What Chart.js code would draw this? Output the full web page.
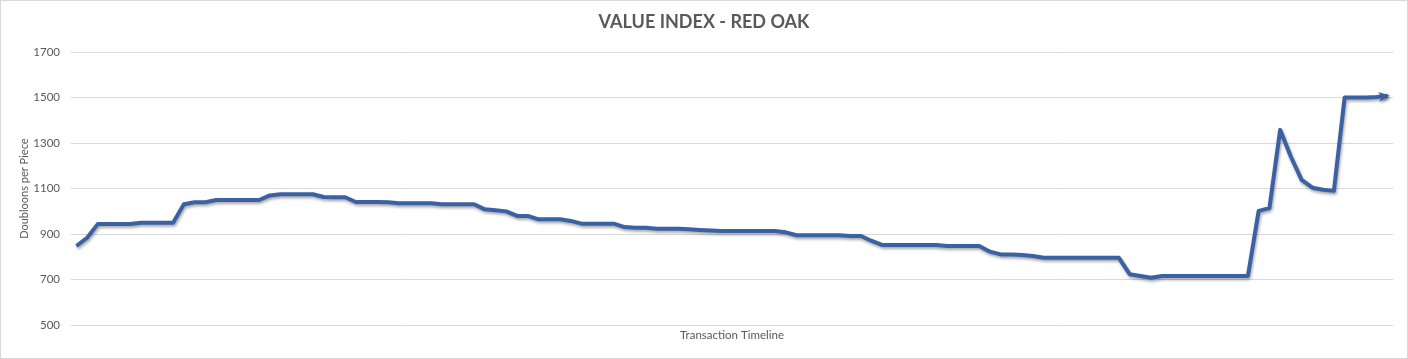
<!DOCTYPE html>
<html>
<head>
<meta charset="utf-8">
<script src="https://cdn.jsdelivr.net/npm/chart.js@4.4.1/dist/chart.umd.min.js"></script>
<style>
  html, body { margin: 0; padding: 0; background: #ffffff; }
  #wrap { position: relative; width: 1408px; height: 359px; }
  canvas { display: block; }
</style>
</head>
<body>
<div id="wrap"><canvas id="c" width="1408" height="359"></canvas></div>
<script>
const chartTitle = "VALUE INDEX - RED OAK";
const yAxisTitle = "Doubloons per Piece";
const xAxisTitle = "Transaction Timeline";

const transactions = [
  1,2,3,4,5,6,7,8,9,10,11,12,13,14,15,16,17,18,19,20,
  21,22,23,24,25,26,27,28,29,30,31,32,33,34,35,36,37,38,39,40,
  41,42,43,44,45,46,47,48,49,50,51,52,53,54,55,56,57,58,59,60,
  61,62,63,64,65,66,67,68,69,70,71,72,73,74,75,76,77,78,79,80,
  81,82,83,84,85,86,87,88,89,90,91,92,93,94,95,96,97,98,99,100,
  101,102,103,104,105,106,107,108,109,110,111,112,113,114,115,116,117,118,119,120,
  121,122,123
];

const doubloonsPerPiece = [
  848,884,945,945,945,945,950,950,950,950,
  1031,1040,1040,1050,1050,1050,1050,1050,1070,1075,
  1075,1075,1075,1063,1062,1062,1041,1041,1041,1040,
  1036,1036,1036,1036,1031,1031,1031,1031,1009,1005,
  1000,980,980,965,965,965,958,946,946,946,
  946,931,928,928,924,924,924,921,918,916,
  914,914,914,914,914,914,908,895,895,895,
  895,895,892,892,870,852,852,852,852,852,
  852,848,848,848,848,823,811,810,808,804,
  796,796,796,796,796,796,796,796,724,716,
  708,716,716,716,716,716,716,716,716,716,
  1002,1014,1358,1240,1138,1104,1095,1090,1500,1500,
  1500,1502,1508
];

const yTicks = [500, 700, 900, 1100, 1300, 1500, 1700];

const LINE_COLOR = '#3a62a2';
const TEXT_COLOR = '#595959';
const GRID_COLOR = '#d9d9d9';

const shadowPlugin = {
  id: 'lineShadow',
  beforeDatasetsDraw(chart) {
    const ctx = chart.ctx;
    ctx.save();
    ctx.shadowColor = 'rgba(0,0,0,0.35)';
    ctx.shadowBlur = 3;
    ctx.shadowOffsetX = 1;
    ctx.shadowOffsetY = 2;
  },
  afterDatasetsDraw(chart) {
    const ctx = chart.ctx;
    const meta = chart.getDatasetMeta(0);
    const pts = meta.data;
    if (pts.length >= 2) {
      const p = pts[pts.length - 1];
      const q = pts[pts.length - 2];
      const dx = p.x - q.x, dy = p.y - q.y;
      const len = Math.hypot(dx, dy) || 1;
      const ux = dx / len, uy = dy / len;
      const px = -uy, py = ux;
      const L = 11, W = 5;
      const tipX = p.x + ux * 2, tipY = p.y + uy * 2;
      ctx.beginPath();
      ctx.moveTo(tipX, tipY);
      ctx.lineTo(tipX - ux * L + px * W, tipY - uy * L + py * W);
      ctx.lineTo(tipX - ux * (L - 3), tipY - uy * (L - 3));
      ctx.lineTo(tipX - ux * L - px * W, tipY - uy * L - py * W);
      ctx.closePath();
      ctx.fillStyle = LINE_COLOR;
      ctx.fill();
    }
    ctx.restore();
  }
};

const borderPlugin = {
  id: 'outerBorder',
  beforeDraw(chart) {
    const ctx = chart.ctx;
    ctx.save();
    ctx.fillStyle = '#ffffff';
    ctx.fillRect(0, 0, chart.width, chart.height);
    ctx.restore();
  },
  afterDraw(chart) {
    const ctx = chart.ctx;
    ctx.save();
    ctx.strokeStyle = GRID_COLOR;
    ctx.lineWidth = 1;
    ctx.strokeRect(0.5, 0.5, chart.width - 1, chart.height - 1);
    ctx.restore();
  }
};

new Chart(document.getElementById('c'), {
  type: 'line',
  data: {
    labels: transactions,
    datasets: [{
      label: 'Red Oak',
      data: doubloonsPerPiece,
      borderColor: LINE_COLOR,
      borderWidth: 4,
      tension: 0,
      pointRadius: 0,
      pointHoverRadius: 0,
      borderJoinStyle: 'round',
      borderCapStyle: 'butt',
      fill: false
    }]
  },
  options: {
    responsive: false,
    animation: false,
    devicePixelRatio: 1,
    layout: { padding: { top: 0, right: 15, bottom: 0, left: 15 } },
    plugins: {
      legend: { display: false },
      tooltip: { enabled: false },
      title: {
        display: true,
        text: chartTitle,
        color: TEXT_COLOR,
        font: { family: 'Lato', size: 18, weight: 'bold', lineHeight: 1.2 },
        padding: { top: 11, bottom: 19.4 }
      }
    },
    scales: {
      x: {
        type: 'category',
        offset: true,
        grid: { display: false, drawTicks: false },
        border: { display: false },
        ticks: { display: false },
        title: {
          display: true,
          text: xAxisTitle,
          color: TEXT_COLOR,
          font: { family: 'Lato', size: 11.5, lineHeight: 1.2 },
          padding: { top: 3, bottom: 17 }
        }
      },
      y: {
        min: 500,
        max: 1700,
        afterBuildTicks(scale) {
          scale.ticks = yTicks.map(v => ({ value: v }));
        },
        afterFit(scale) { scale.width = 56; },
        grid: { color: GRID_COLOR, lineWidth: 1, drawTicks: false },
        border: { display: false },
        ticks: {
          color: TEXT_COLOR,
          padding: 11,
          font: { family: 'Lato', size: 11.5 },
          callback: (v) => String(v)
        },
        title: {
          display: true,
          text: yAxisTitle,
          color: TEXT_COLOR,
          font: { family: 'Lato', size: 11, lineHeight: 1.2 },
          padding: { top: 3, bottom: 0 }
        }
      }
    }
  },
  plugins: [shadowPlugin, borderPlugin]
});
</script>
</body>
</html>
